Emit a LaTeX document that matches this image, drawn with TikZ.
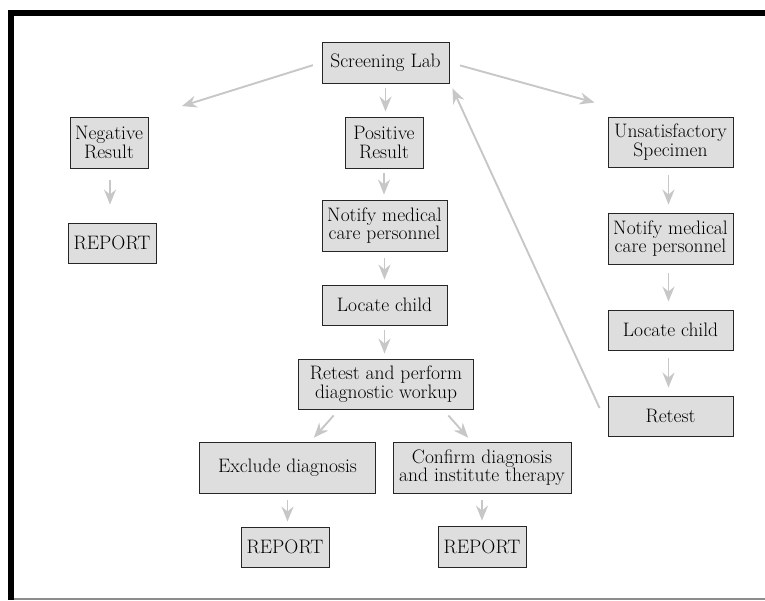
\documentclass[tikz,border=0pt]{standalone}
\usetikzlibrary{arrows.meta,calc}
\begin{document}
\begin{tikzpicture}[x=1pt,y=-1pt,
  box/.style={draw=black!85,line width=0.9pt,fill=black!13,align=center,
    inner sep=0pt,font=\fontsize{19.5}{18.5}\selectfont},
  arr/.style={draw=black!22,line width=1.9pt,
    -{Stealth[length=15pt,width=12pt,inset=5pt]}}]
\useasboundingbox (0,0) rectangle (765,600);
% frame
\fill[black] (8,10) rectangle (765,16);
\fill[black] (8,10) rectangle (14,600);
\fill[black!45] (14,597.5) rectangle (765,599.5);
% nodes
\node[box,minimum width=127pt,minimum height=41pt] (lab) at (385.5,62.5) {Screening Lab};
\node[box,minimum width=78pt,minimum height=51pt] (neg) at (109,142.5) {Negative\\Result};
\node[box,minimum width=78pt,minimum height=51pt] (pos) at (384,142.5) {Positive\\Result};
\node[box,minimum width=125pt,minimum height=50pt] (uns) at (670.5,142) {Unsatisfactory\\Specimen};
\node[box,minimum width=88pt,minimum height=40pt] (rep1) at (112,243) {REPORT};
\node[box,minimum width=125pt,minimum height=51pt] (not1) at (384.5,225.5) {Notify medical\\care personnel};
\node[box,minimum width=125pt,minimum height=51pt] (not2) at (670.5,238.5) {Notify medical\\care personnel};
\node[box,minimum width=125pt,minimum height=40pt] (loc1) at (384.5,305) {Locate child};
\node[box,minimum width=125pt,minimum height=40pt] (loc2) at (670.5,330) {Locate child};
\node[box,minimum width=175pt,minimum height=50pt] (ret1) at (386,384) {Retest and perform\\diagnostic workup};
\node[box,minimum width=125pt,minimum height=40pt] (ret2) at (670.5,416) {Retest};
\node[box,minimum width=176pt,minimum height=51pt] (exc) at (287.5,467.5) {Exclude diagnosis};
\node[box,minimum width=178pt,minimum height=51pt] (con) at (482,467.5) {Confirm diagnosis\\and institute therapy};
\node[box,minimum width=88pt,minimum height=40pt] (rep2) at (285,547) {REPORT};
\node[box,minimum width=88pt,minimum height=41pt] (rep3) at (482,546.5) {REPORT};
% connectors
\draw[arr,shorten <=9pt,shorten >=35pt] (lab.west) -- (neg.north east);
\draw[arr,shorten <=5pt,shorten >=5pt] (lab.south) -- (lab.south |- pos.north);
\draw[arr,shorten <=11pt] (lab.east) -- ($(uns.north west)+(-13,-14)$);
\draw[arr,shorten <=12pt,shorten >=18pt] ($(neg.south)+(1,0)$) -- ($(neg.south |- rep1.north)+(1,0)$);
\draw[arr,shorten <=5pt,shorten >=5pt] (pos.south) -- (pos.south |- not1.north);
\draw[arr,shorten <=7pt,shorten >=5pt] (not1.south) -- (loc1.north);
\draw[arr,shorten <=5pt,shorten >=5pt] (loc1.south) -- (loc1.south |- ret1.north);
\draw[arr,shorten <=8pt,shorten >=5pt] ($(ret1.south)+(-47,0)$) -- ($(exc.north)+(23,0)$);
\draw[arr,shorten <=8pt,shorten >=5pt] ($(ret1.south)+(57,0)$) -- ($(con.north)+(-10.5,0)$);
\draw[arr,shorten <=7pt,shorten >=5pt] (exc.south) -- (exc.south |- rep2.north);
\draw[arr,shorten <=7pt,shorten >=5pt] (con.south) -- (con.south |- rep3.north);
\draw[arr,shorten <=8pt,shorten >=8pt] ($(uns.south)+(-2,0)$) -- ($(not2.north)+(-2,0)$);
\draw[arr,shorten <=9pt,shorten >=8pt] ($(not2.south)+(-2,0)$) -- ($(loc2.north)+(-2,0)$);
\draw[arr,shorten <=8pt,shorten >=8pt] ($(loc2.south)+(-2,0)$) -- ($(ret2.north)+(-2,0)$);
\draw[arr] ($(ret2.west)+(-8,-8)$) -- ($(lab.south east)+(3,5)$);
\end{tikzpicture}
\end{document}
